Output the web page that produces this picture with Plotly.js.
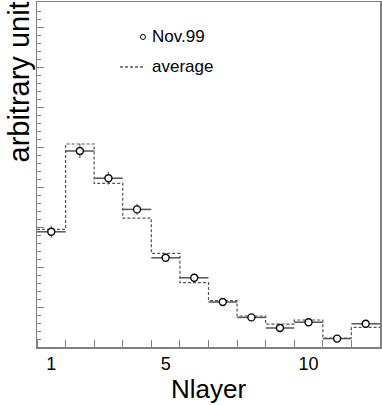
<!DOCTYPE html>
<html>
<head>
<meta charset="utf-8">
<script src="https://cdn.plot.ly/plotly-3.0.1.min.js"></script>
<style>
  html, body { margin: 0; padding: 0; background: #fff; }
  #chart { width: 382px; height: 405px; }
</style>
</head>
<body>
<div id="chart"></div>
<script>
// ── Data ─────────────────────────────────────────────────────────────────────
const nlayer   = [1, 2, 3, 4, 5, 6, 7, 8, 9, 10, 11, 12];
const nov99    = [2.88, 4.90, 4.22, 3.44, 2.23, 1.73, 1.125, 0.74, 0.475, 0.62, 0.21, 0.58];
const nov99Err = [0.15, 0.18, 0.16, 0.14, 0.10, 0.09, 0.07, 0.06, 0.05, 0.05, 0.03, 0.05];
const average  = [2.94, 5.075, 4.09, 3.22, 2.34, 1.61, 1.16, 0.775, 0.57, 0.675, 0.225, 0.49];
const xTicks   = [1, 5, 10];

const FONT = 'Liberation Sans, Arial, Helvetica, sans-serif';
const AXIS_GREY = '#808080';

// ── Step histogram from bin centres (width 1) ────────────────────────────────
const edges = nlayer.map(n => n - 0.5).concat([nlayer[nlayer.length - 1] + 0.5]);
const stepY = average.concat([average[average.length - 1]]);

const histTrace = {
  x: edges, y: stepY,
  mode: 'lines',
  line: { shape: 'hv', color: '#555', width: 1.2, dash: '3px,2px' },
  hoverinfo: 'skip', showlegend: false
};

const dataTrace = {
  x: nlayer, y: nov99,
  mode: 'markers',
  marker: { symbol: 'circle', size: 7, color: '#fff', line: { width: 1.4, color: '#000' } },
  error_x: { type: 'constant', value: 0.5, width: 0, thickness: 1.5, color: '#555' },
  error_y: { type: 'data', array: nov99Err, width: 0, thickness: 1, color: '#555' },
  showlegend: false
};

// ── Hand-drawn ROOT style legend ─────────────────────────────────────────────
const shapes = [
  { type: 'circle', xref: 'paper', yref: 'paper',
    xsizemode: 'pixel', ysizemode: 'pixel', xanchor: 0.309, yanchor: 0.8986,
    x0: -2.5, x1: 2.5, y0: -2.5, y1: 2.5,
    line: { color: '#000', width: 1 }, fillcolor: '#fff' },
  { type: 'line', xref: 'paper', yref: 'paper',
    x0: 0.242, x1: 0.309, y0: 0.8116, y1: 0.8116,
    line: { color: '#000', width: 1, dash: '3px,2px' } }
];

const annotations = [
  { xref: 'paper', yref: 'paper', x: 0.329, y: 0.8986, xanchor: 'left', yanchor: 'middle',
    text: 'Nov.99', showarrow: false, font: { family: FONT, size: 17, color: '#000' } },
  { xref: 'paper', yref: 'paper', x: 0.329, y: 0.8116, xanchor: 'left', yanchor: 'middle',
    text: 'average', showarrow: false, font: { family: FONT, size: 17, color: '#000' } },
  { xref: 'paper', yref: 'paper', x: 0, y: 1, xshift: -19, yshift: 2,
    xanchor: 'center', yanchor: 'top', textangle: -90,
    text: 'arbitrary unit', showarrow: false, font: { family: FONT, size: 29, color: '#000' } }
];

const layout = {
  width: 382, height: 405,
  paper_bgcolor: '#fff', plot_bgcolor: '#fff',
  font: { family: FONT, color: '#000' },
  margin: { l: 37, r: 2, t: 2, b: 58 },
  showlegend: false,
  xaxis: {
    range: [0.5, 12.5],
    tickvals: xTicks, ticktext: xTicks.map(String),
    ticks: '', tickfont: { size: 18, family: FONT },
    minor: { tick0: 0.5, dtick: 1, ticks: 'inside', ticklen: 7, tickcolor: AXIS_GREY, tickwidth: 1 },
    showgrid: false, zeroline: false,
    showline: true, linecolor: AXIS_GREY, linewidth: 1.5, mirror: true,
    title: { text: 'Nlayer', font: { size: 26, family: FONT }, standoff: 6 }
  },
  yaxis: {
    range: [0, 8.625],
    dtick: 1, tick0: 0, ticks: 'inside', ticklen: 7, tickcolor: AXIS_GREY, tickwidth: 1,
    showticklabels: false,
    minor: { dtick: 0.2, ticks: 'inside', ticklen: 4, tickcolor: AXIS_GREY, tickwidth: 1 },
    showgrid: false, zeroline: false,
    showline: true, linecolor: AXIS_GREY, linewidth: 1.5, mirror: true
  },
  shapes, annotations
};

Plotly.newPlot('chart', [histTrace, dataTrace], layout, { displayModeBar: false, staticPlot: true });
</script>
</body>
</html>
